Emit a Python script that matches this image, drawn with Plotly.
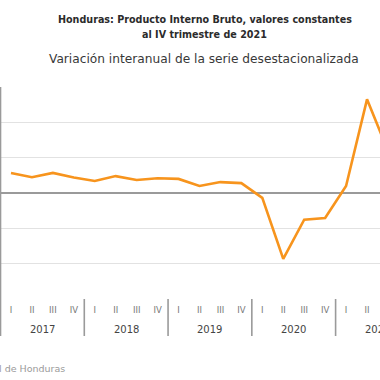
import plotly.graph_objects as go

years = ["2017", "2018", "2019", "2020", "2021"]
quarters = ["I", "II", "III", "IV"]
variacion = [5.7, 4.5, 5.7, 4.4,
             3.4, 4.8, 3.7, 4.2,
             4.0, 2.0, 3.1, 2.8,
             -1.4, -18.7, -7.6, -7.1,
             2.0, 26.6, 12.0, 11.0]

x_idx = list(range(len(variacion)))
tick_text = [q for _ in years for q in quarters]

FONT = "DejaVu Sans"
PLOT_TOP, PLOT_BOTTOM = 87, 299
def py(Y):
    return (PLOT_BOTTOM - Y) / (PLOT_BOTTOM - PLOT_TOP)

fig = go.Figure()
fig.add_trace(go.Scatter(x=x_idx, y=variacion, mode="lines",
                         line=dict(color="#F7941D", width=2.6),
                         hoverinfo="skip", cliponaxis=True))

annotations = [
    dict(text="<b>Honduras: Producto Interno Bruto, valores constantes</b>",
         x=205/380, y=py(20), xref="paper", yref="paper", showarrow=False,
         xanchor="center", yanchor="middle",
         font=dict(family=FONT, size=9.6, color="#2b2b2b")),
    dict(text="<b>al IV trimestre de 2021</b>",
         x=204/380, y=py(34), xref="paper", yref="paper", showarrow=False,
         xanchor="center", yanchor="middle",
         font=dict(family=FONT, size=9.6, color="#2b2b2b")),
    dict(text="Variación interanual de la serie desestacionalizada",
         x=204/380, y=py(59), xref="paper", yref="paper", showarrow=False,
         xanchor="center", yanchor="middle",
         font=dict(family=FONT, size=12.2, color="#383838")),
    dict(text="Fuente: Banco Central de Honduras",
         x=67/380, y=py(368), xref="paper", yref="paper", xanchor="right",
         yanchor="middle",
         showarrow=False, font=dict(family=FONT, size=9.5, color="#9a9a9a")),
]
shapes = []
n_q = len(quarters)
for k, yr in enumerate(years):
    center = k * n_q + (n_q - 1) / 2
    annotations.append(dict(text=yr, x=center, y=py(329), xref="x", yref="paper",
                            showarrow=False, xanchor="center", yanchor="middle",
                            font=dict(family=FONT, size=10, color="#444444")))
    shapes.append(dict(type="line", xref="x", yref="paper",
                       x0=k * n_q - 0.5, x1=k * n_q - 0.5,
                       y0=py(336), y1=(0 if k > 0 else 1),
                       line=dict(color="#9a9a9a", width=1.6)))

fig.update_layout(
    width=380, height=380,
    margin=dict(l=0, r=0, t=PLOT_TOP, b=380 - PLOT_BOTTOM, pad=0),
    paper_bgcolor="white", plot_bgcolor="white",
    showlegend=False,
    annotations=annotations, shapes=shapes,
    xaxis=dict(range=[-0.525, 17.62], tickvals=x_idx, ticktext=tick_text,
               showgrid=False, zeroline=False, showline=False, ticks="",
               tickfont=dict(family=FONT, size=8.5, color="#777777"),
               ticklabelstandoff=4),
    yaxis=dict(range=[-30.1, 30.1], dtick=10, tick0=0, showticklabels=False,
               showgrid=True, gridcolor="#e2e2e2", gridwidth=1.2,
               zeroline=True, zerolinecolor="#9a9a9a", zerolinewidth=1.6,
               showline=False, ticks=""),
)

fig.write_html("out.html", config={"displayModeBar": False},
               post_script="document.body.style.margin='0';")
